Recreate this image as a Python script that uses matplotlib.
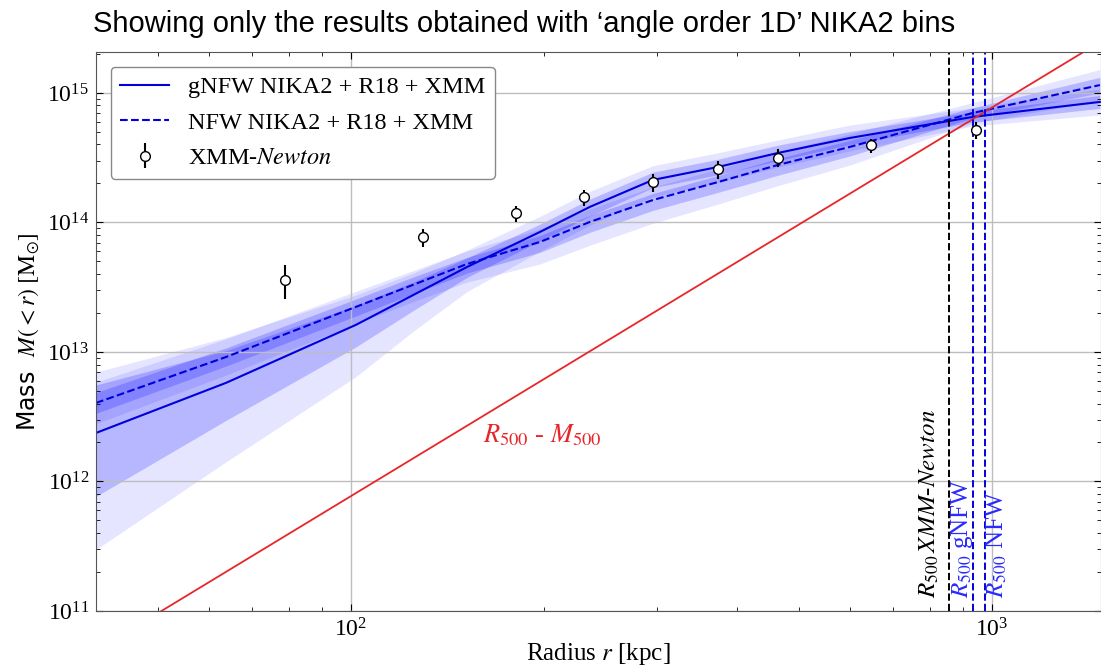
import numpy as np
import matplotlib
matplotlib.use("Agg")
import matplotlib.pyplot as plt
import matplotlib.transforms as mtransforms

plt.rcParams['font.family'] = ['Liberation Serif', 'DejaVu Serif']
plt.rcParams['mathtext.fontset'] = 'stix'

# ---- data ----
# radius grid for the profiles [kpc]
r_prof = [40, 63.8, 101.8, 125, 151.7, 197.2, 236, 295.9, 373.7, 463.6, 600.4, 934, 1474]

# gNFW NIKA2 + R18 + XMM median mass profile [Msun]
m_gnfw = [2.37e12, 5.77e12, 1.62e13, 2.75e13, 4.53e13, 8.45e13, 1.32e14, 2.13e14,
          2.68e14, 3.44e14, 4.49e14, 6.53e14, 8.52e14]
# band half-widths in dex (upper / lower)
gnfw_1s_up = [0.37, 0.25, 0.15, 0.10, 0.07, 0.06, 0.06, 0.06, 0.06, 0.06, 0.05, 0.04, 0.05]
gnfw_1s_dn = [0.49, 0.29, 0.17, 0.12, 0.08, 0.07, 0.07, 0.06, 0.06, 0.06, 0.05, 0.04, 0.05]
gnfw_2s_up = [0.47, 0.35, 0.23, 0.17, 0.13, 0.12, 0.12, 0.11, 0.11, 0.10, 0.10, 0.07, 0.10]
gnfw_2s_dn = [0.90, 0.61, 0.40, 0.28, 0.19, 0.15, 0.14, 0.13, 0.12, 0.11, 0.10, 0.07, 0.10]

# NFW NIKA2 + R18 + XMM median mass profile [Msun]
m_nfw = [4.04e12, 9.14e12, 2.23e13, 3.3e13, 4.78e13, 7.07e13, 1.01e14, 1.49e14,
         2.05e14, 2.78e14, 3.83e14, 7.01e14, 1.15e15]
nfw_1s_up = [0.08, 0.07, 0.06, 0.06, 0.05, 0.05, 0.05, 0.05, 0.05, 0.05, 0.05, 0.04, 0.06]
nfw_1s_dn = [0.08, 0.07, 0.07, 0.07, 0.07, 0.08, 0.08, 0.08, 0.08, 0.08, 0.07, 0.04, 0.06]
nfw_2s_up = [0.16, 0.14, 0.12, 0.11, 0.10, 0.10, 0.10, 0.10, 0.10, 0.10, 0.10, 0.08, 0.12]
nfw_2s_dn = [0.16, 0.14, 0.13, 0.13, 0.14, 0.17, 0.18, 0.18, 0.17, 0.16, 0.14, 0.08, 0.12]

# XMM-Newton hydrostatic masses
r_xmm = [78.9, 129.7, 180.7, 231, 296, 374, 464, 647, 944]
m_xmm = [3.61e13, 7.7e13, 1.18e14, 1.57e14, 2.05e14, 2.57e14, 3.16e14, 3.93e14, 5.2e14]
e_xmm = [1.05e13, 1.2e13, 1.7e13, 2.2e13, 3.3e13, 4.0e13, 5.0e13, 5.0e13, 7.7e13]

# R500 - M500 relation (end points)
r_rel = [40, 1480]
m_rel = [4.94e10, 2.50e15]

# R500 values [kpc]
r500_xmm = 856
r500_gnfw = 935
r500_nfw = 976

# ---- plot ----
fig = plt.figure(figsize=(11.01, 6.66), dpi=100)
ax = fig.add_axes([96/1101, 55/666, 1005/1101, 559/666])

r = np.array(r_prof)
mg = np.array(m_gnfw)
mn = np.array(m_nfw)

band = 'blue'
ax.fill_between(r, mg*10**-np.array(gnfw_2s_dn), mg*10**np.array(gnfw_2s_up),
                color=band, alpha=0.1, lw=0)
ax.fill_between(r, mg*10**-np.array(gnfw_1s_dn), mg*10**np.array(gnfw_1s_up),
                color=band, alpha=0.2, lw=0)
ax.fill_between(r, mn*10**-np.array(nfw_2s_dn), mn*10**np.array(nfw_2s_up),
                color=band, alpha=0.1, lw=0)
ax.fill_between(r, mn*10**-np.array(nfw_1s_dn), mn*10**np.array(nfw_1s_up),
                color=band, alpha=0.2, lw=0)

ax.plot(r, mg, '-', color='#0000dd', lw=1.5, label='gNFW NIKA2 + R18 + XMM')
ax.plot(r, mn, '--', color='#0000dd', lw=1.5, label='NFW NIKA2 + R18 + XMM')
ax.errorbar(r_xmm, m_xmm, yerr=e_xmm, fmt='o', color='black', mfc='white',
            mec='black', ms=7, elinewidth=1.5, capsize=0, zorder=5,
            label=r'XMM-$\it{Newton}$')

ax.plot(r_rel, m_rel, '-', color='#e8262a', lw=1.3)

ax.axvline(r500_xmm, color='black', ls='--', lw=1.4)
ax.axvline(r500_gnfw, color='#0000dd', ls='--', lw=1.4)
ax.axvline(r500_nfw, color='#0000dd', ls='--', lw=1.4)

trans = mtransforms.blended_transform_factory(ax.transData, ax.transAxes)
ax.text(800, 0.023, r'$R_{500}\,XMM$-$Newton$', rotation=90, transform=trans,
        ha='center', va='bottom', fontsize=18, color='black')
ax.text(898, 0.023, r'$R_{500}$ gNFW', rotation=90, transform=trans,
        ha='center', va='bottom', fontsize=18, color='#2a2aff')
ax.text(1018, 0.023, r'$R_{500}$ NFW', rotation=90, transform=trans,
        ha='center', va='bottom', fontsize=18, color='#2a2aff')
ax.text(198.6, 2.28e12, r'$R_{500}$ - $M_{500}$', ha='center', va='center',
        fontsize=19, color='#e8262a')

ax.set_xscale('log')
ax.set_yscale('log')
ax.set_xlim(40, 1480)
ax.set_ylim(1e11, 2.07e15)

ax.grid(True, which='major', color='#bdbdbd', lw=1)
ax.tick_params(which='both', direction='in', top=True, right=True,
               labelsize=17)
ax.tick_params(which='major', length=5, pad=5)
ax.tick_params(which='minor', length=3)
for s in ax.spines.values():
    s.set_color('#555555')

ax.set_xlabel(r'Radius $r$ [kpc]', fontsize=18, labelpad=0)
ax.set_ylabel(r'Mass  $M(<r)\ [\mathrm{M}_{\odot}]$', fontsize=17,
              family='DejaVu Sans')

leg = ax.legend(loc='upper left', fontsize=17.5, handlelength=2.0,
                fancybox=True, framealpha=1, edgecolor='#888888',
                borderaxespad=0.6, labelspacing=0.55)

fig.text(93/1101, 1 - 10/666, u'Showing only the results obtained with \u2018angle order 1D\u2019 NIKA2 bins',
         family='Liberation Sans', fontsize=21, va='top', ha='left')

fig.savefig('out.png', dpi=100)
